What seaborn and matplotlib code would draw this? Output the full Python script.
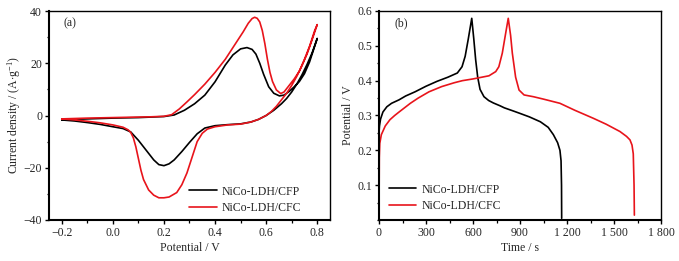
import matplotlib
matplotlib.use("Agg")
import matplotlib.pyplot as plt
import seaborn as sns
import pandas as pd
from matplotlib.ticker import MultipleLocator

# ---------------- data ----------------
labels = ["NiCo-LDH/CFP", "NiCo-LDH/CFC"]
colors = ["#000000", "#e8141b"]

# CV, NiCo-LDH/CFP (forward anodic sweep then reverse cathodic sweep)
cfp_cv_v = [-0.2, -0.1, 0.0, 0.1, 0.15, 0.2, 0.24, 0.28, 0.32, 0.36, 0.40, 0.44, 0.47, 0.50, 0.525,
            0.545, 0.56, 0.575, 0.59, 0.61, 0.63, 0.652, 0.67, 0.69, 0.71, 0.73, 0.75, 0.77, 0.79, 0.80,
            0.78, 0.76, 0.74, 0.72, 0.70, 0.68, 0.66, 0.63, 0.60, 0.57, 0.54, 0.50, 0.45, 0.40, 0.36,
            0.33, 0.30, 0.27, 0.24, 0.22, 0.20, 0.18, 0.16, 0.14, 0.12, 0.10, 0.07, 0.04, 0.0, -0.05,
            -0.1, -0.15, -0.2]
cfp_cv_i = [-1.6, -1.3, -1.0, -0.8, -0.6, -0.4, 0.2, 2.0, 4.5, 7.8, 12.9, 19.3, 23.2, 25.5, 26.0,
            25.3, 23.5, 20.0, 15.8, 11.0, 8.5, 7.5, 7.8, 9.2, 11.0, 13.0, 16.0, 20.5, 26.5, 29.5,
            24.0, 19.5, 15.5, 12.0, 9.0, 6.5, 4.5, 2.0, 0.0, -1.5, -2.5, -3.2, -3.5, -3.9, -4.8,
            -7.0, -10.3, -13.8, -17.0, -18.5, -19.2, -18.8, -17.0, -14.5, -12.0, -9.5, -6.3, -5.0, -4.3, -3.4,
            -2.7, -2.1, -1.7]

# CV, NiCo-LDH/CFC
cfc_cv_v = [-0.2, -0.1, 0.0, 0.1, 0.15, 0.2, 0.23, 0.26, 0.29, 0.32, 0.36, 0.40, 0.44, 0.48, 0.51, 0.53,
            0.545, 0.555, 0.565, 0.575, 0.585, 0.595, 0.605, 0.615, 0.625, 0.64, 0.657, 0.67, 0.69, 0.71,
            0.73, 0.75, 0.77, 0.79, 0.80,
            0.78, 0.76, 0.74, 0.72, 0.70, 0.68, 0.66, 0.64, 0.62, 0.60, 0.57, 0.54, 0.50, 0.45, 0.40, 0.37,
            0.35, 0.33, 0.31, 0.29, 0.27, 0.25, 0.22, 0.20, 0.18, 0.16, 0.14, 0.12, 0.11, 0.10, 0.09, 0.08,
            0.07, 0.06, 0.04, 0.0, -0.05, -0.1, -0.15, -0.2]
cfc_cv_i = [-1.3, -1.0, -0.8, -0.6, -0.5, -0.3, 0.3, 2.5, 5.2, 8.0, 12.0, 16.5, 21.5, 27.5, 32.0, 35.3,
            37.1, 37.6, 37.2, 35.8, 32.5, 27.5, 21.5, 16.5, 13.0, 9.8, 8.4, 9.0, 11.5, 14.0,
            17.0, 21.5, 26.5, 32.5, 34.8,
            29.0, 23.5, 19.0, 15.0, 11.5, 8.5, 6.0, 3.5, 1.5, 0.0, -1.5, -2.5, -3.3, -3.6, -4.3, -5.2,
            -6.8, -10.0, -16.0, -22.0, -26.5, -29.5, -31.2, -31.5, -31.5, -30.5, -28.5, -24.5, -21.0, -16.5, -12.0, -8.5,
            -6.5, -5.5, -4.5, -3.6, -2.8, -2.2, -1.7, -1.3]

# GCD, NiCo-LDH/CFP
cfp_t = [0, 3, 10, 25, 50, 80, 128, 170, 230, 300, 370, 440, 500, 530, 550, 570, 592, 605, 617, 630, 645,
         670, 700, 730, 772, 800, 857, 900, 960, 1030, 1080, 1113, 1140, 1155, 1162, 1165, 1166]
cfp_u = [0.25, 0.27, 0.29, 0.31, 0.325, 0.335, 0.345, 0.356, 0.368, 0.384, 0.398, 0.410, 0.422, 0.44, 0.47, 0.52,
         0.579, 0.52, 0.46, 0.41, 0.375, 0.354, 0.343, 0.336, 0.328, 0.322, 0.313, 0.306, 0.296, 0.282, 0.266,
         0.245, 0.222, 0.20, 0.17, 0.10, 0.005]

# GCD, NiCo-LDH/CFC
cfc_t = [0, 2, 5, 15, 40, 70, 100, 128, 200, 250, 319, 400, 480, 532, 600, 702, 745, 765, 787, 810, 825, 840,
         851, 872, 894, 926, 985, 1050, 1155, 1250, 1368, 1450, 1538, 1580, 1602, 1615, 1623, 1628, 1630]
cfc_u = [0.0, 0.18, 0.22, 0.245, 0.27, 0.288, 0.30, 0.31, 0.335, 0.35, 0.368, 0.383, 0.394, 0.40, 0.405, 0.414,
         0.426, 0.44, 0.479, 0.54, 0.579, 0.53, 0.479, 0.41, 0.373, 0.359, 0.354, 0.347, 0.335, 0.315, 0.292,
         0.275, 0.254, 0.24, 0.23, 0.215, 0.19, 0.10, 0.014]

time_ticks = [0, 300, 600, 900, 1200, 1500, 1800]
time_tick_labels = ["0", "300", "600", "900", "1 200", "1 500", "1 800"]

# ---------------- style ----------------
sns.set_theme(style="ticks")
plt.rcParams["font.family"] = ["Liberation Serif", "DejaVu Serif"]
plt.rcParams["mathtext.fontset"] = "custom"
plt.rcParams["mathtext.rm"] = "Liberation Serif"
plt.rcParams["mathtext.it"] = "Liberation Serif:italic"
plt.rcParams["axes.unicode_minus"] = True

FS = 8.5

fig = plt.figure(figsize=(6.79, 2.61), dpi=100)
ax1 = fig.add_axes([49 / 679, 1 - 220 / 261, 281 / 679, 209 / 261])
ax2 = fig.add_axes([379 / 679, 1 - 220 / 261, 282 / 679, 209 / 261])

cv = pd.concat([
    pd.DataFrame({"V": cfp_cv_v, "I": cfp_cv_i, "s": labels[0]}),
    pd.DataFrame({"V": cfc_cv_v, "I": cfc_cv_i, "s": labels[1]}),
], ignore_index=True)
gcd = pd.concat([
    pd.DataFrame({"t": cfp_t, "U": cfp_u, "s": labels[0]}),
    pd.DataFrame({"t": cfc_t, "U": cfc_u, "s": labels[1]}),
], ignore_index=True)

pal = dict(zip(labels, colors))
sns.lineplot(data=cv, x="V", y="I", hue="s", palette=pal, sort=False, estimator=None,
             linewidth=1.2, ax=ax1)
sns.lineplot(data=gcd, x="t", y="U", hue="s", palette=pal, sort=False, estimator=None,
             linewidth=1.2, ax=ax2)

# axes 1
ax1.set_xlim(-0.25, 0.85)
ax1.set_ylim(-40, 40)
ax1.xaxis.set_major_locator(MultipleLocator(0.2))
ax1.xaxis.set_minor_locator(MultipleLocator(0.1))
ax1.yaxis.set_major_locator(MultipleLocator(20))
ax1.yaxis.set_minor_locator(MultipleLocator(10))
ax1.set_xlabel("Potential / V", fontsize=FS, labelpad=2)
ax1.set_ylabel("Current density / (A$\\cdot$g$^{-1}$)", fontsize=FS, labelpad=0.5)
ax1.text(0.053, 0.94, "(a)", transform=ax1.transAxes, fontsize=FS, ha="left", va="center")

# axes 2
ax2.set_xlim(0, 1800)
ax2.set_ylim(0, 0.6)
ax2.set_xticks(time_ticks)
ax2.set_xticklabels(time_tick_labels)
ax2.xaxis.set_minor_locator(MultipleLocator(150))
ax2.set_yticks([0.1, 0.2, 0.3, 0.4, 0.5, 0.6])
ax2.yaxis.set_minor_locator(MultipleLocator(0.05))
ax2.set_xlabel("Time / s", fontsize=FS, labelpad=2)
ax2.set_ylabel("Potential / V", fontsize=FS, labelpad=2)
ax2.text(0.055, 0.94, "(b)", transform=ax2.transAxes, fontsize=FS, ha="left", va="center")

for ax in (ax1, ax2):
    ax.tick_params(which="major", direction="out", length=3, width=1.0, labelsize=FS, pad=2, color="black")
    ax.tick_params(which="minor", direction="out", length=1.8, width=0.9, color="black")
    for side in ("left", "bottom"):
        ax.spines[side].set_linewidth(1.5)
    for side in ("top", "right"):
        ax.spines[side].set_visible(True)
        ax.spines[side].set_linewidth(1.0)
    for sp in ax.spines.values():
        sp.set_color("black")

ax1.legend(loc="lower left", bbox_to_anchor=(0.50, 0.03), frameon=False, fontsize=FS,
           handlelength=2.3, handletextpad=0.45, labelspacing=0.35, borderpad=0, borderaxespad=0)
ax2.legend(loc="lower left", bbox_to_anchor=(0.035, 0.04), frameon=False, fontsize=FS,
           handlelength=2.3, handletextpad=0.45, labelspacing=0.35, borderpad=0, borderaxespad=0)

fig.savefig("out.png", dpi=100)
